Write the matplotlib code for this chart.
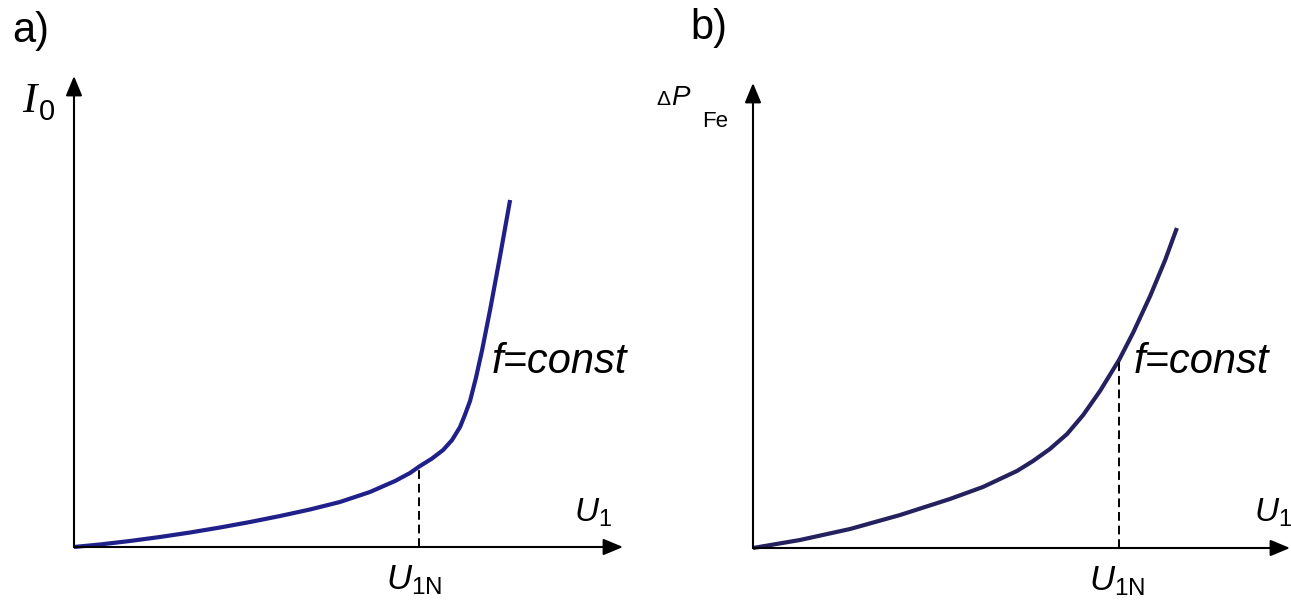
import matplotlib.pyplot as plt

plt.rcParams['font.family'] = ['Liberation Sans', 'DejaVu Sans']
plt.rcParams['mathtext.fontset'] = 'custom'
plt.rcParams['mathtext.rm'] = 'Liberation Sans'
plt.rcParams['mathtext.it'] = 'Liberation Sans:italic'

# a) no-load current vs primary voltage (voltage in units of U1N)
u1_a = [0.0, 0.075, 0.162, 0.249, 0.336, 0.423, 0.510, 0.597, 0.683,
        0.770, 0.857, 0.930, 0.973, 1.0, 1.037, 1.069, 1.095, 1.118,
        1.132, 1.147, 1.164, 1.182, 1.205, 1.234, 1.263]
i0_a = [0.0, 0.0064, 0.0153, 0.0255, 0.0369, 0.0497, 0.0637, 0.0790, 0.0955,
        0.1146, 0.1401, 0.1682, 0.1885, 0.2051, 0.2255, 0.2471, 0.2726, 0.3057,
        0.3363, 0.3720, 0.4306, 0.5019, 0.6038, 0.7414, 0.8841]

# b) iron losses vs primary voltage
u1_b = [0.0, 0.128, 0.265, 0.402, 0.538, 0.628, 0.721, 0.765, 0.811, 0.858,
        0.902, 0.948, 1.0, 1.038, 1.085, 1.126, 1.158]
pfe_b = [0.0, 0.0206, 0.0490, 0.0852, 0.1265, 0.1574, 0.1987, 0.2245, 0.2555,
         0.2942, 0.3432, 0.4052, 0.4852, 0.5548, 0.6503, 0.7432, 0.8258]

u1n = 1.0

W, H = 1291, 606
fig = plt.figure(figsize=(W / 100, H / 100), dpi=100)
fig.patch.set_facecolor('white')

def px(x, y):
    # pixel position -> figure fraction (only used for label placement)
    return x / W, 1 - y / H

ax_a = fig.add_axes([74 / W, (H - 547) / H, 549 / W, 471 / H])
ax_b = fig.add_axes([753 / W, (H - 548) / H, 537 / W, 465 / H])

for ax, xmax in [(ax_a, 1.59), (ax_b, 1.467)]:
    ax.set_xlim(0, xmax)
    ax.set_ylim(0, 1.2)
    ax.set_axis_off()
    arrow = dict(arrowstyle='-|>,head_length=0.6,head_width=0.25',
                 color='black', lw=1.5, shrinkA=0, shrinkB=0, mutation_scale=20)
    ax.annotate('', xy=(1, 0), xytext=(0, 0), xycoords='axes fraction',
                textcoords='axes fraction', arrowprops=arrow)
    ax.annotate('', xy=(0, 1), xytext=(0, 0), xycoords='axes fraction',
                textcoords='axes fraction', arrowprops=arrow)

ax_a.plot(u1_a, i0_a, color='#20208a', lw=3.0, clip_on=False,
          solid_joinstyle='round', solid_capstyle='butt')
ax_b.plot(u1_b, pfe_b, color='#25215f', lw=3.0, clip_on=False,
          solid_joinstyle='round', solid_capstyle='butt')

ax_a.plot([u1n, u1n], [0, i0_a[u1_a.index(u1n)]], color='black', lw=1.4,
          dashes=(4.5, 2.5), clip_on=False)
ax_b.plot([u1n, u1n], [0, pfe_b[u1_b.index(u1n)]], color='black', lw=1.4,
          dashes=(4.5, 2.5), clip_on=False)

# panel letters
fig.text(*px(12, 42), 'a)', fontsize=30, va='baseline', ha='left')
fig.text(*px(690, 39), 'b)', fontsize=30, va='baseline', ha='left')

# axis labels
fig.text(*px(22, 112), 'I', fontsize=31, family='Liberation Serif',
         style='italic', va='baseline', ha='left')
fig.text(*px(39, 120), '0', fontsize=21, va='baseline', ha='left')
fig.text(*px(656, 105), 'Δ', fontsize=15, va='baseline', ha='left')
fig.text(*px(671, 105), 'P', fontsize=20, style='italic', va='baseline', ha='left')
fig.text(*px(702, 127), 'Fe', fontsize=16, va='baseline', ha='left')

fig.text(*px(574, 522), r'$U_{\mathrm{1}}$', fontsize=24, va='baseline', ha='left')
fig.text(*px(1254, 522), r'$U_{\mathrm{1}}$', fontsize=24, va='baseline', ha='left')
fig.text(*px(386, 589), r'$U_{\mathrm{1N}}$', fontsize=25, va='baseline', ha='left')
fig.text(*px(1089, 590), r'$U_{\mathrm{1N}}$', fontsize=25, va='baseline', ha='left')

fig.text(*px(492, 373), 'f=const', fontsize=30, style='italic', va='baseline', ha='left')
fig.text(*px(1134, 373), 'f=const', fontsize=30, style='italic', va='baseline', ha='left')

fig.savefig('out.png', dpi=100, facecolor='white')
